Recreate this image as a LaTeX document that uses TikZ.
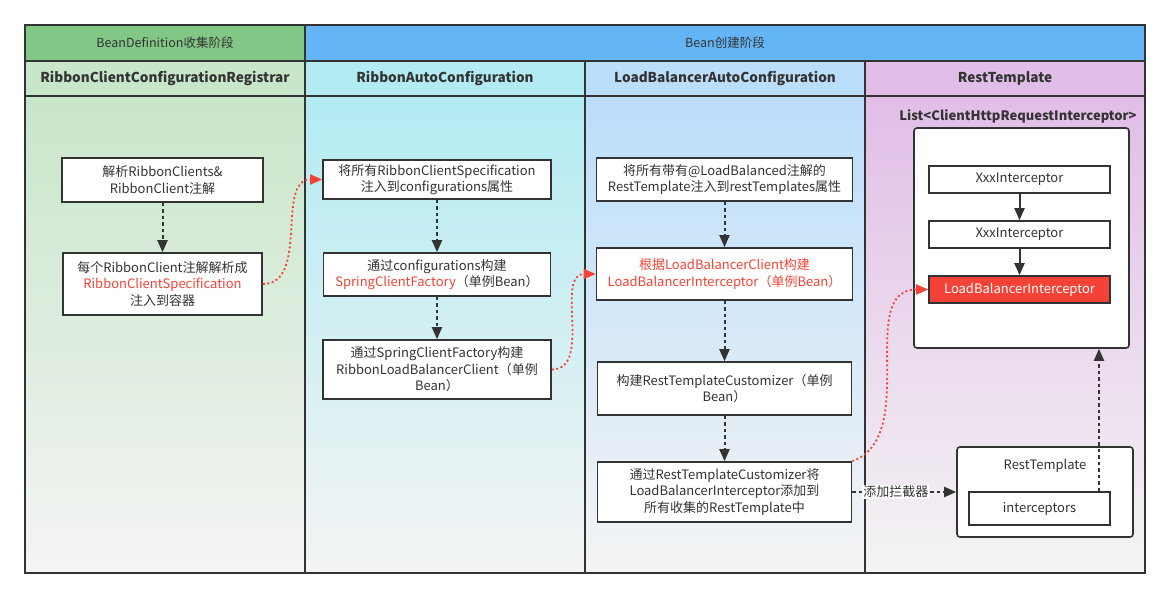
\documentclass[tikz,border=0pt]{standalone}
\usepackage{fontspec}
\setmainfont{Noto Sans CJK SC}
\usetikzlibrary{arrows.meta}

\definecolor{ink}{HTML}{333333}
\definecolor{phasegreen}{HTML}{82C785}
\definecolor{phaseblue}{HTML}{64B5F6}
\definecolor{lanegreen}{HTML}{C8E6C9}
\definecolor{lanecyan}{HTML}{B2EBF2}
\definecolor{laneblue}{HTML}{BBDEFB}
\definecolor{lanepurple}{HTML}{E1BEE7}
\definecolor{lanebottom}{HTML}{F4F4F4}
\definecolor{hotred}{HTML}{F44336}

\tikzset{
    stepbox/.style={draw=ink, line width=1.6pt, fill=white, align=center, inner sep=1pt,
        text=ink, font=\fontsize{13}{16.5}\selectfont},
    groupbox/.style={draw=ink, line width=1.6pt, fill=white, rounded corners=3pt},
    flow/.style={-{Triangle[length=12pt, width=10pt]}, draw=ink, line width=2pt, dash pattern=on 3.5pt off 3pt},
    link/.style={-{Triangle[length=12pt, width=10pt]}, draw=hotred, line width=1.8pt, dash pattern=on 2pt off 2.5pt},
    lanehead/.style={font=\bfseries\fontsize{13.6}{16}\selectfont, text=ink},
    phasehead/.style={font=\fontsize{12.5}{15}\selectfont, text=ink},
}
\newcommand{\hl}[1]{\textcolor{hotred}{#1}}

\begin{document}
\begin{tikzpicture}[x=1pt, y=-1pt]
    \useasboundingbox (0,0) rectangle (1170,599);

    % Phase headers
    \draw[ink, line width=1.6pt, fill=phasegreen] (25,25) rectangle (305,61);
    \draw[ink, line width=1.6pt, fill=phaseblue] (305,25) rectangle (1145,61);
    \node[phasehead] (p1) at (165,43) {BeanDefinition收集阶段};
    \node[phasehead] (p2) at (725,43) {Bean创建阶段};

    % Lanes
    \foreach \x/\c/\t in {25/lanegreen/RibbonClientConfigurationRegistrar, 305/lanecyan/RibbonAutoConfiguration, 585/laneblue/LoadBalancerAutoConfiguration, 865/lanepurple/RestTemplate} {
        \shade[top color=\c, bottom color=lanebottom] (\x,96) rectangle (\x+280,573);
        \draw[ink, line width=1.6pt, fill=\c] (\x,61) rectangle (\x+280,96);
        \draw[ink, line width=1.6pt] (\x,96) rectangle (\x+280,573);
        \node[lanehead] (h\x) at (\x+140,78.5) {\t};
    }

    % RibbonClientConfigurationRegistrar
    \node[stepbox, minimum width=201pt, minimum height=44pt] (a1) at (162.5,180) {解析RibbonClients\&\\RibbonClient注解};
    \node[stepbox, minimum width=199pt, minimum height=62pt] (a2) at (162.5,284) {每个RibbonClient注解解析成\\\hl{RibbonClientSpecification}\\注入到容器};
    \draw[flow] (a1) -- (a2);

    % RibbonAutoConfiguration
    \node[stepbox, minimum width=228pt, minimum height=39pt] (b1) at (437,179.5) {将所有RibbonClientSpecification\\注入到configurations属性};
    \node[stepbox, minimum width=227pt, minimum height=43pt] (b2) at (437,274.5) {通过configurations构建\\\hl{SpringClientFactory}（单例Bean）};
    \node[stepbox, minimum width=228pt, minimum height=59pt] (b3) at (437,369.5) {通过SpringClientFactory构建\\RibbonLoadBalancerClient（单例\\Bean）};
    \draw[flow] (b1) -- (b2);
    \draw[flow] (b2) -- (b3);

    % LoadBalancerAutoConfiguration
    \node[stepbox, minimum width=256pt, minimum height=43pt] (c1) at (724.5,179.5) {将所有带有@LoadBalanced注解的\\RestTemplate注入到restTemplates属性};
    \node[stepbox, minimum width=256pt, minimum height=52pt, text=hotred] (c2) at (724.5,274) {根据LoadBalancerClient构建\\LoadBalancerInterceptor（单例Bean）};
    \node[stepbox, minimum width=254pt, minimum height=53pt] (c3) at (724.5,388.5) {构建RestTemplateCustomizer（单例\\Bean）};
    \node[stepbox, minimum width=254pt, minimum height=60pt] (c4) at (724.5,492) {通过RestTemplateCustomizer将\\LoadBalancerInterceptor添加到\\所有收集的RestTemplate中};
    \draw[flow] (c1) -- (c2);
    \draw[flow] (c2) -- (c3);
    \draw[flow] (c3) -- (c4);

    % RestTemplate
    \node[lanehead, font=\bfseries\fontsize{13}{15}\selectfont] (lbl) at (1018,116) {List<ClientHttpRequestInterceptor>};
    \node[groupbox, minimum width=215pt, minimum height=220pt] (lst) at (1021.5,238) {};
    \node[stepbox, minimum width=181pt, minimum height=27pt] (d1) at (1019.5,179.5) {XxxInterceptor};
    \node[stepbox, minimum width=181pt, minimum height=27pt] (d2) at (1019.5,234.5) {XxxInterceptor};
    \node[stepbox, minimum width=181pt, minimum height=27pt, fill=hotred, text=white] (d3) at (1019.5,289.5) {LoadBalancerInterceptor};
    \draw[flow, solid] (d1) -- (d2);
    \draw[flow, solid] (d2) -- (d3);

    \node[groupbox, minimum width=176pt, minimum height=90pt] (rt) at (1045,492) {};
    \node[text=ink, font=\fontsize{13}{16.5}\selectfont] (rtt) at (1045,466) {RestTemplate};
    \node[stepbox, minimum width=141pt, minimum height=33pt] (ic) at (1039.5,508.5) {interceptors};
    \coordinate (rail) at (1099,400);
    \draw[flow] (ic.north -| rail) -- (lst.south -| rail);

    % Links between lanes
    \draw[flow] (c4) -- node[pos=0.42, fill=white, inner sep=1pt, text=ink, font=\fontsize{13}{16.5}\selectfont] (add) {添加拦截器} (rt);
    \draw[link] (a2.east) to[out=0, in=180] (b1.west);
    \draw[link] (b3.east) to[out=0, in=180] (c2.west);
    \draw[link] (c4.north east) to[out=20, in=180] (d3.west);
\end{tikzpicture}
\end{document}
